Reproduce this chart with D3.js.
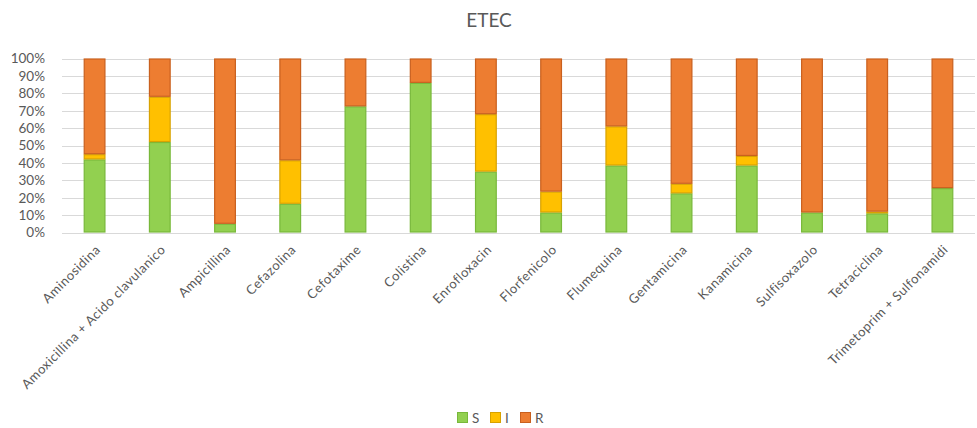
<!DOCTYPE html>
<html>
<head>
<meta charset="utf-8">
<script src="https://cdn.jsdelivr.net/npm/d3@7"></script>
<style>
  html, body { margin: 0; padding: 0; background: #fff; }
  svg { display: block; font-family: Lato, "Open Sans", sans-serif; }
</style>
</head>
<body>
<svg id="chart" width="977" height="428"></svg>
<script>
// Antibiotic susceptibility of ETEC isolates (% of isolates)
const categories = [
  "Aminosidina", "Amoxicillina + Acido clavulanico", "Ampicillina", "Cefazolina",
  "Cefotaxime", "Colistina", "Enrofloxacin", "Florfenicolo", "Flumequina",
  "Gentamicina", "Kanamicina", "Sulfisoxazolo", "Tetraciclina", "Trimetoprim + Sulfonamidi"
];
const seriesNames = ["S", "I", "R"];
const sValues = [42, 52, 5, 16.5, 72.5, 86, 35, 11.5, 38.5, 22.5, 38.5, 11.5, 11, 25.5];
const iValues = [3, 26, 0, 25, 0, 0, 33, 12, 22.5, 5.5, 5.5, 0, 1, 0];
const rValues = [55, 22, 95, 58.5, 27.5, 14, 32, 76.5, 39, 72, 56, 88.5, 88, 74.5];
const yTicks = [0, 10, 20, 30, 40, 50, 60, 70, 80, 90, 100];

const fills = { S: "#92D050", I: "#FFC000", R: "#ED7D31" };
const strokes = { S: "#78B83A", I: "#D8A200", R: "#C9601E" };

const rows = categories.map((c, i) => ({ cat: c, S: sValues[i], I: iValues[i], R: rValues[i] }));
const stacked = d3.stack().keys(seriesNames)(rows);

const svg = d3.select("#chart");
const margin = { left: 62, right: 2, top: 58.5, bottom: 195.5 };
const W = 977, H = 428;

const x = d3.scaleBand().domain(categories)
  .range([margin.left, W - margin.right]).paddingInner(0.667).paddingOuter(0.333);
const y = d3.scaleLinear().domain([0, 100]).range([H - margin.bottom, margin.top]);

// Title
svg.append("text").attr("x", 489).attr("y", 27)
  .attr("text-anchor", "middle").attr("fill", "#595959")
  .attr("font-size", 19).text("ETEC");

// Gridlines
svg.append("g").selectAll("line").data(yTicks).join("line")
  .attr("x1", margin.left).attr("x2", W - margin.right)
  .attr("y1", d => Math.round(y(d)) + 0.5).attr("y2", d => Math.round(y(d)) + 0.5)
  .attr("stroke", "#D9D9D9").attr("stroke-width", 1);

// Y axis labels
const yAxis = d3.axisLeft(y).tickValues(yTicks).tickFormat(d => d + "%").tickSize(0).tickPadding(17);
const gy = svg.append("g").attr("transform", `translate(${margin.left},0)`).call(yAxis);
gy.select(".domain").remove();
gy.selectAll("text").attr("fill", "#595959").attr("font-size", 13.5)
  .attr("font-family", "Lato, sans-serif");

// Stacked bars
svg.append("g").selectAll("g").data(stacked).join("g")
  .attr("fill", d => fills[d.key]).attr("stroke", d => strokes[d.key])
  .selectAll("rect").data(d => d.filter(s => s[1] - s[0] > 0)).join("rect")
  .attr("x", d => x(d.data.cat) + 0.5)
  .attr("width", x.bandwidth() - 1)
  .attr("y", d => y(d[1]) + 0.5)
  .attr("height", d => Math.max(0, y(d[0]) - y(d[1]) - 1))
  .attr("stroke-width", 1.2);

// X axis labels, rotated 45°
const xAxis = d3.axisBottom(x).tickSize(0).tickPadding(0);
const gx = svg.append("g").attr("transform", `translate(0,${H - margin.bottom})`).call(xAxis);
gx.select(".domain").remove();
gx.selectAll("text")
  .attr("fill", "#595959").attr("font-size", 13).attr("font-family", "Lato, sans-serif")
  .attr("letter-spacing", 0.5)
  .attr("text-anchor", "end").attr("dy", null).attr("y", 0)
  .attr("transform", "translate(6.5,18) rotate(-45)");

// Legend
const legendItems = [
  { key: "S", x: 457 }, { key: "I", x: 490 }, { key: "R", x: 520 }
];
const lg = svg.append("g");
legendItems.forEach(it => {
  lg.append("rect").attr("x", it.x + 0.5).attr("y", 412.5).attr("width", 10).attr("height", 10)
    .attr("fill", fills[it.key]).attr("stroke", strokes[it.key]);
  lg.append("text").attr("x", it.x + 15).attr("y", 422.5)
    .attr("fill", "#595959").attr("font-size", 13.5).text(it.key);
});
</script>
</body>
</html>
